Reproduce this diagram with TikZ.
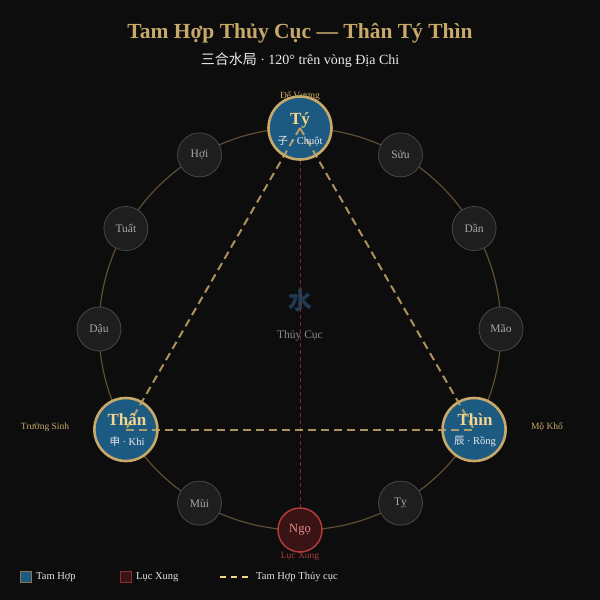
\documentclass[tikz,border=0pt]{standalone}
\usepackage{fontspec}
\setmainfont{Liberation Serif}
\newfontfamily\cjk{Noto Sans CJK SC}
\definecolor{bg}{HTML}{0D0D0D}
\definecolor{gold}{HTML}{C8A96A}
\definecolor{ring}{HTML}{5E4E32}
\definecolor{tamfill}{HTML}{1D5A82}
\definecolor{smallfill}{HTML}{1E1E1E}
\definecolor{smalldraw}{HTML}{474747}
\definecolor{smalltext}{HTML}{A8A8A8}
\definecolor{xungfill}{HTML}{3A1414}
\definecolor{xungdraw}{HTML}{B03A3A}
\definecolor{xungtext}{HTML}{E88A8A}
\definecolor{cream}{HTML}{F2D68E}
\definecolor{water}{HTML}{1E3A54}
\tikzset{
  branch/.style={circle,minimum size=44pt,inner sep=0pt,fill=smallfill,draw=smalldraw,line width=0.8pt,text=smalltext,font=\fontsize{11.5}{12}\selectfont},
  tamhop/.style={circle,minimum size=63pt,inner sep=0pt,fill=tamfill,draw=gold,line width=2.6pt},
  xung/.style={circle,minimum size=44pt,inner sep=0pt,fill=xungfill,draw=xungdraw,line width=1.5pt,text=xungtext,font=\fontsize{12.5}{13}\selectfont},
  bigname/.style={text=cream,font=\bfseries\fontsize{17}{18}\selectfont,inner sep=0pt},
  subname/.style={text=white!92!black,font=\fontsize{10.5}{11}\selectfont,inner sep=0pt},
  tri/.style={gold,line width=2pt,dash pattern=on 8pt off 5pt,opacity=0.85},
  xline/.style={xungdraw!70!black,line width=1pt,dash pattern=on 4pt off 3pt},
  tag/.style={text=gold,font=\fontsize{9.5}{10}\selectfont,inner sep=0pt},
  legtext/.style={text=white!90!black,font=\fontsize{10.5}{11}\selectfont,anchor=west,inner sep=0pt},
}
\begin{document}
\begin{tikzpicture}[x=1pt,y=-1pt]
\fill[bg] (0,0) rectangle (600,600);
\useasboundingbox (0,0) rectangle (600,600);
% title
\node[text=gold,font=\bfseries\fontsize{21.5}{23}\selectfont] (title) at (300,33) {Tam Hợp Thủy Cục — Thân Tý Thìn};
\node[text=white!92!black,font=\fontsize{14}{15}\selectfont] (subtitle) at (300,60) {{\cjk 三合水局} · 120° trên vòng Địa Chi};
% ring
\draw[ring,line width=1.2pt] (300,329) circle (201);
% centre
\node[text=water,font=\cjk\bfseries\fontsize{24}{26}\selectfont] (shui) at (300,300) {水};
\node[text=white!55!black,font=\fontsize{11.5}{12}\selectfont] (thuycuc) at (300,336) {Thủy Cục};
% tags
\node[tag] (devuong) at (300,96) {Đế Vượng};
% small branches
\node[branch] (suu) at (400.5,154.9) {Sửu};
\node[branch] (dan) at (474.1,228.5) {Dần};
\node[branch] (mao) at (501,329) {Mão};
\node[branch] (ty6) at (400.5,503.1) {Tỵ};
\node[branch] (mui) at (199.5,503.1) {Mùi};
\node[branch] (dau) at (99,329) {Dậu};
\node[branch] (tuat) at (125.9,228.5) {Tuất};
\node[branch] (hoi) at (199.5,154.9) {Hợi};
% Ngo
\node[xung] (ngo) at (300,530) {Ngọ};
% tam hop circles
\node[tamhop] (ty) at (300,128) {};
\node[tamhop] (than) at (125.9,429.5) {};
\node[tamhop] (thin) at (474.1,429.5) {};
% connectors
\draw[xline] (ty) -- (ngo);
\draw[tri] (ty.center) -- (than.center);
\draw[tri] (ty.center) -- (thin.center);
\draw[tri] (than.center) -- (thin.center);
% labels of tam hop
\node[bigname] (tyname) at (300,120) {Tý};
\node[subname] (tysub) at (300,141) {{\cjk 子} · Chuột};
\node[bigname] (thanname) at (127,420) {Thân};
\node[subname] (thansub) at (127,441) {{\cjk 申} · Khỉ};
\node[bigname] (thinname) at (475,420) {Thìn};
\node[subname] (thinsub) at (475,441) {{\cjk 辰} · Rồng};
\node[tag] (truongsinh) at (45,427) {Trường Sinh};
\node[tag] (mokho) at (547,427) {Mộ Khố};
\node[tag,text=xungdraw] (lucxung) at (300,556) {Lục Xung};
% legend
\node[draw=gold!70!black,fill=tamfill,line width=1.2pt,minimum size=11pt,inner sep=0pt] (leg1) at (26,577) {};
\node[legtext] (leg1t) at (36,577) {Tam Hợp};
\node[draw=xungdraw!80!black,fill=xungfill,line width=1.2pt,minimum size=11pt,inner sep=0pt] (leg2) at (126,577) {};
\node[legtext] (leg2t) at (136,577) {Lục Xung};
\coordinate (leg3a) at (220,577);
\coordinate (leg3b) at (250,577);
\draw[cream,line width=1.8pt,dash pattern=on 6pt off 5pt] (leg3a) -- (leg3b);
\node[legtext] (leg3t) at (256,577) {Tam Hợp Thủy cục};
\end{tikzpicture}
\end{document}
